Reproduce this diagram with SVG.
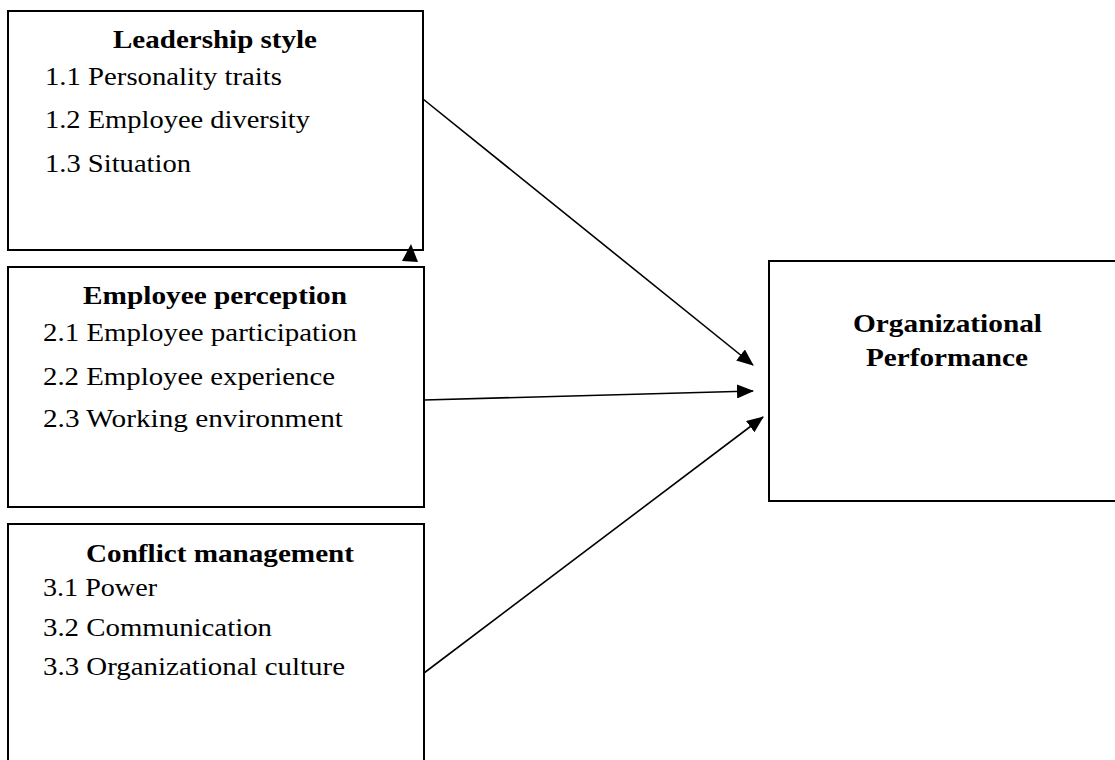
<svg xmlns="http://www.w3.org/2000/svg" width="1115" height="760" viewBox="0 0 1115 760">
  <defs>
    <style>
      .box { fill: #ffffff; stroke: #000000; stroke-width: 2; }
      text { font-family: 'Liberation Serif', 'Nimbus Roman', 'Nimbus Roman No9 L', 'Noto Serif', FreeSerif, 'Times New Roman', serif; font-size: 25px; fill: #000000; }
      .title { font-weight: bold; }
      .link { fill: none; stroke: #000000; stroke-width: 1.6; marker-end: url(#head); }
    </style>
    <marker id="head" viewBox="0 0 17 14" refX="16" refY="7" markerWidth="17" markerHeight="14" markerUnits="userSpaceOnUse" orient="auto">
      <path d="M0,0 L17,7 L0,14 z" fill="#000000"/>
    </marker>
  </defs>

  <rect width="1115" height="760" fill="#ffffff"/>

  <!-- Leadership style -->
  <g id="leadership-style">
    <rect class="box" x="8" y="11" width="415" height="239"/>
    <text class="title" x="113" y="48" textLength="204" lengthAdjust="spacingAndGlyphs">Leadership style</text>
    <text class="item" x="45" y="85" textLength="237" lengthAdjust="spacingAndGlyphs">1.1 Personality traits</text>
    <text class="item" x="45" y="128" textLength="265" lengthAdjust="spacingAndGlyphs">1.2 Employee diversity</text>
    <text class="item" x="45" y="172" textLength="146" lengthAdjust="spacingAndGlyphs">1.3 Situation</text>
  </g>

  <!-- Employee perception -->
  <g id="employee-perception">
    <rect class="box" x="8" y="267" width="416" height="240"/>
    <text class="title" x="83" y="304" textLength="264" lengthAdjust="spacingAndGlyphs">Employee perception</text>
    <text class="item" x="43" y="341" textLength="314" lengthAdjust="spacingAndGlyphs">2.1 Employee participation</text>
    <text class="item" x="43" y="385" textLength="292" lengthAdjust="spacingAndGlyphs">2.2 Employee experience</text>
    <text class="item" x="43" y="427" textLength="300" lengthAdjust="spacingAndGlyphs">2.3 Working environment</text>
  </g>

  <!-- Conflict management -->
  <g id="conflict-management">
    <rect class="box" x="8" y="524" width="416" height="240"/>
    <text class="title" x="86" y="562" textLength="268" lengthAdjust="spacingAndGlyphs">Conflict management</text>
    <text class="item" x="43" y="596" textLength="114" lengthAdjust="spacingAndGlyphs">3.1 Power</text>
    <text class="item" x="43" y="636" textLength="229" lengthAdjust="spacingAndGlyphs">3.2 Communication</text>
    <text class="item" x="43" y="675" textLength="302" lengthAdjust="spacingAndGlyphs">3.3 Organizational culture</text>
  </g>

  <!-- Organizational Performance -->
  <g id="organizational-performance">
    <rect class="box" x="769" y="261" width="352" height="240"/>
    <text class="title" x="853" y="332" textLength="189" lengthAdjust="spacingAndGlyphs">Organizational</text>
    <text class="title" x="866" y="366" textLength="162" lengthAdjust="spacingAndGlyphs">Performance</text>
  </g>

  <!-- Connectors -->
  <g id="connectors">
    <line class="link" x1="423" y1="99" x2="753" y2="365"/>
    <line class="link" x1="424" y1="400" x2="753" y2="391"/>
    <line class="link" x1="424" y1="673" x2="763" y2="417"/>
    <polygon points="411,244 402,261 418,262" fill="#000000"/>
  </g>
</svg>
